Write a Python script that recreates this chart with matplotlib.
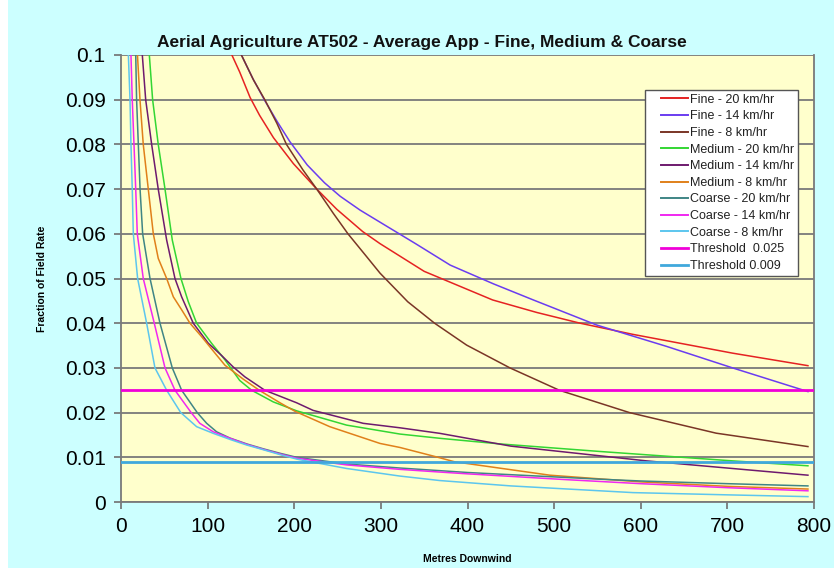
import matplotlib
matplotlib.use("Agg")
import matplotlib.pyplot as plt
from matplotlib.patches import FancyBboxPatch
from matplotlib.lines import Line2D
from matplotlib.legend_handler import HandlerBase

plt.rcParams['font.family'] = ['Liberation Sans', 'DejaVu Sans']

title = "Aerial Agriculture AT502 - Average App - Fine, Medium & Coarse"
xlabel = "Metres Downwind"
ylabel = "Fraction of Field Rate"

# ---- data ----
fine20_x = [128, 137, 149, 160, 176, 199, 226, 249, 279, 299, 350, 429, 480, 530, 591, 706, 793]
fine20_y = [0.1, 0.0962, 0.0905, 0.0865, 0.0815, 0.0757, 0.070, 0.0655, 0.0605, 0.0578, 0.0516,
            0.0452, 0.0424, 0.040, 0.0375, 0.0333, 0.0305]

fine14_x = [139, 152, 166, 180, 195, 215, 235, 253, 276, 299, 340, 380, 430, 476, 549, 630, 706, 793]
fine14_y = [0.1, 0.0948, 0.0898, 0.0852, 0.0806, 0.0754, 0.0714, 0.0684, 0.0653, 0.0626, 0.0578, 0.053,
            0.0488, 0.0452, 0.0396, 0.0348, 0.030, 0.0247]

fine8_x = [139, 153, 166, 180, 191, 210, 226, 245, 262, 283.5, 299, 331, 362, 399, 449, 506, 587, 687, 793]
fine8_y = [0.1, 0.0944, 0.09, 0.0847, 0.08, 0.0743, 0.07, 0.0646, 0.06, 0.0549, 0.0512, 0.0448, 0.040,
           0.0351, 0.030, 0.025, 0.020, 0.0154, 0.0124]

med20_x = [32.7, 36.5, 43, 50.8, 59.2, 69.2, 77.7, 87.3, 104.6, 120, 137, 150.8, 175.7, 202.7, 260.4,
           322, 368, 437, 553, 706, 793]
med20_y = [0.1, 0.09, 0.08, 0.07, 0.0586, 0.05, 0.0448, 0.04, 0.0355, 0.0318, 0.0272, 0.025, 0.0224,
           0.0204, 0.0172, 0.0152, 0.01425, 0.013, 0.0113, 0.0092, 0.0081]

med14_x = [24.6, 28.5, 35.4, 43, 52.7, 62.3, 70, 83.4, 100.8, 116, 129, 143, 166, 202.7, 221.7, 279.6,
           322, 368, 450, 606.6, 793]
med14_y = [0.1, 0.09, 0.08, 0.07, 0.0586, 0.05, 0.0459, 0.04, 0.0355, 0.0328, 0.0303, 0.028, 0.025,
           0.0222, 0.0205, 0.0176, 0.0166, 0.01536, 0.0125, 0.0092, 0.006]

med8_x = [19, 21.9, 25.7, 31.5, 37.3, 43, 52.7, 60.4, 70, 79.6, 93, 108.5, 120, 141, 160.4, 183.5, 200.8,
          241, 299, 322, 364, 385, 495, 600, 700, 793]
med8_y = [0.1, 0.09, 0.08, 0.07, 0.06, 0.0545, 0.05, 0.0459, 0.043, 0.04, 0.037, 0.0333, 0.0306, 0.0275,
          0.0249, 0.0222, 0.0203, 0.01685, 0.0131, 0.0122, 0.0101, 0.009, 0.006, 0.0045, 0.0035, 0.0029]

coarse20_x = [17, 18, 20, 22, 25, 33.5, 45, 59.2, 70, 88, 98.9, 110.4, 125.8, 145, 164.2, 183.5, 202.7,
              260.4, 322, 400, 553, 600, 700, 793]
coarse20_y = [0.1, 0.09, 0.08, 0.07, 0.06, 0.05, 0.04, 0.03, 0.025, 0.02, 0.0176, 0.0157, 0.0143, 0.0130,
              0.0119, 0.0109, 0.0100, 0.0085, 0.0076, 0.0066, 0.0051, 0.0047, 0.0041, 0.0036]

coarse14_x = [11.5, 13, 15, 17, 18.8, 25.7, 38.4, 50.8, 62.3, 81, 91, 106.5, 125.8, 145, 164.2, 183.5,
              202.7, 260.4, 322, 368, 400, 514, 600, 700, 793]
coarse14_y = [0.1, 0.09, 0.08, 0.07, 0.06, 0.05, 0.04, 0.03, 0.025, 0.02, 0.0176, 0.0157, 0.01425,
              0.0129, 0.01178, 0.01074, 0.0098, 0.0083, 0.0073, 0.0067, 0.0063, 0.0050, 0.0041, 0.0032, 0.0025]

coarse8_x = [8.5, 10.4, 11.5, 13, 14.2, 19.2, 29.6, 39.2, 52.7, 69, 87.3, 106.5, 125.8, 145, 164.2, 183.5,
             202.7, 260.4, 322, 368, 450, 591, 700, 793]
coarse8_y = [0.1, 0.09, 0.08, 0.07, 0.06, 0.05, 0.04, 0.03, 0.025, 0.02, 0.01685, 0.01536, 0.0140,
             0.01275, 0.0117, 0.0106, 0.0096, 0.0075, 0.0058, 0.0048, 0.0036, 0.0021, 0.0016, 0.0012]

thresh_x = [0, 800]
thresh_hi = [0.025, 0.025]
thresh_lo = [0.009, 0.009]

xticks = [0, 100, 200, 300, 400, 500, 600, 700, 800]
yticks = [0, 0.01, 0.02, 0.03, 0.04, 0.05, 0.06, 0.07, 0.08, 0.09, 0.1]
ytick_labels = ["0", "0.01", "0.02", "0.03", "0.04", "0.05", "0.06", "0.07", "0.08", "0.09", "0.1"]

series = [
    (fine20_x, fine20_y, "Fine - 20 km/hr", "#E52222", 1.1),
    (fine14_x, fine14_y, "Fine - 14 km/hr", "#6A3CF0", 1.1),
    (fine8_x, fine8_y, "Fine - 8 km/hr", "#7A3526", 1.1),
    (med20_x, med20_y, "Medium - 20 km/hr", "#33D633", 1.1),
    (med14_x, med14_y, "Medium - 14 km/hr", "#6E1A6E", 1.1),
    (med8_x, med8_y, "Medium - 8 km/hr", "#E0801A", 1.1),
    (coarse20_x, coarse20_y, "Coarse - 20 km/hr", "#3F8585", 1.1),
    (coarse14_x, coarse14_y, "Coarse - 14 km/hr", "#F028F0", 1.1),
    (coarse8_x, coarse8_y, "Coarse - 8 km/hr", "#5CC6EE", 1.1),
    (thresh_x, thresh_hi, "Threshold  0.025", "#F000D8", 2.0),
    (thresh_x, thresh_lo, "Threshold 0.009", "#40A8DC", 2.0),
]


class PadHandler(HandlerBase):
    """Legend line that leaves some empty space on its left."""
    def create_artists(self, legend, orig_handle, xdescent, ydescent, width, height, fontsize, trans):
        y = height / 2 - ydescent
        x0 = -xdescent + width * 0.30
        x1 = -xdescent + width * 0.97
        ln = Line2D([x0, x1], [y, y], color=orig_handle.get_color(),
                    lw=max(orig_handle.get_linewidth(), 1.4), transform=trans)
        return [ln]


W, H = 834, 568
fig = plt.figure(figsize=(W / 100, H / 100), dpi=100)
fig.patch.set_facecolor("white")
bg = FancyBboxPatch((8 / W, -0.05), 1.1, 1.1, boxstyle="round,pad=0,rounding_size=0.02",
                    transform=fig.transFigure, facecolor="#CCFFFF", edgecolor="none", zorder=-10)
fig.patches.append(bg)

ax = fig.add_axes([121 / W, 1 - 502 / H, (814 - 121) / W, (502 - 55) / H])
ax.set_facecolor("#FFFFCC")

handles = []
for xs, ys, lab, col, lw in series:
    h, = ax.plot(xs, ys, color=col, lw=lw, label=lab, zorder=3, solid_joinstyle="round")
    handles.append(h)

ax.set_xlim(0, 800)
ax.set_ylim(0, 0.1)
ax.set_xticks(xticks)
ax.set_yticks(yticks)
ax.set_yticklabels(ytick_labels)
ax.tick_params(axis="both", labelsize=15, length=5, width=1.2, color="#707070", direction="out", pad=6)
ax.grid(axis="y", color="#7a7a7a", lw=1.3, zorder=1)
ax.set_axisbelow(True)
for s in ["left", "bottom", "right"]:
    ax.spines[s].set_color("#7a7a7a")
    ax.spines[s].set_linewidth(1.3)
ax.spines["top"].set_visible(False)

fig.text(422 / W, 1 - 42 / H, title, fontsize=12.5, fontweight="bold", color="#111111",
         ha="center", va="center")
ax.set_xlabel(xlabel, fontsize=7.5, fontweight="bold", labelpad=13)
ax.set_ylabel(ylabel, fontsize=7.5, fontweight="bold", labelpad=13)

leg = ax.legend(handles=handles, loc="upper right",
                bbox_to_anchor=((798 - 121) / (814 - 121), 1 - (90 - 55) / (502 - 55)),
                fontsize=9, frameon=True, fancybox=False, shadow=False, handlelength=3.3,
                handletextpad=0.05, labelspacing=0.37, borderpad=0.3, borderaxespad=0,
                handler_map={Line2D: PadHandler()})
leg.get_frame().set_edgecolor("#555555")
leg.get_frame().set_linewidth(1.0)
leg.get_frame().set_facecolor("white")
leg.get_frame().set_alpha(1)
for t in leg.get_texts():
    t.set_color("#222222")

fig.savefig("out.png", dpi=100, facecolor=fig.get_facecolor())
